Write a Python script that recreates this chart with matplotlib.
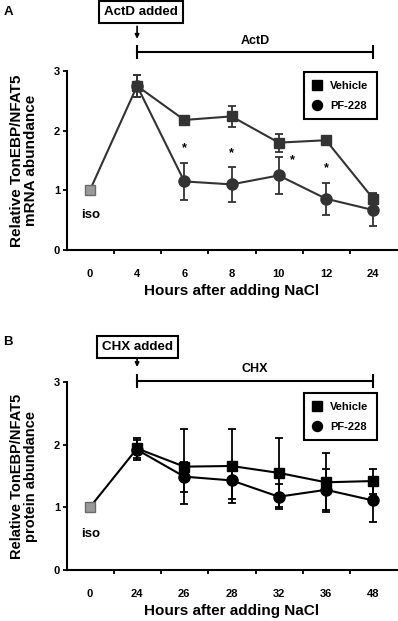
import matplotlib
matplotlib.use('Agg')
import matplotlib.pyplot as plt
import numpy as np

plt.rcParams['font.family'] = ['Liberation Sans', 'DejaVu Sans']
plt.rcParams['font.weight'] = 'bold'

###############################################################################
# data

# panel A - mRNA
hours_a = ['0', '4', '6', '8', '10', '12', '24']
iso_a = 1.0
veh_a = [2.75, 2.18, 2.24, 1.80, 1.84, 0.86]
veh_a_err = [0.19, 0.04, 0.18, 0.15, 0.05, 0.09]
pf_a = [2.75, 1.15, 1.10, 1.25, 0.86, 0.67]
pf_a_err = [0.19, 0.31, 0.29, 0.31, 0.27, 0.27]
sig_a = [False, True, True, True, True, False]

# panel B - protein
hours_b = ['0', '24', '26', '28', '32', '36', '48']
iso_b = 1.0
veh_b = [1.94, 1.65, 1.66, 1.55, 1.40, 1.42]
veh_b_err = [0.16, 0.60, 0.59, 0.55, 0.47, 0.20]
pf_b = [1.92, 1.49, 1.43, 1.17, 1.28, 1.11]
pf_b_err = [0.16, 0.24, 0.29, 0.20, 0.33, 0.34]

###############################################################################

def panel(fig, rect, hours, iso, veh, veh_err, pf, pf_err, colour,
          drug, ylabel, ylab_size, leg_top, bar_y, box_xy):
    ax = fig.add_axes(rect)
    x = np.arange(1, len(hours))

    # iso point and link to first treated point
    ax.plot([0, x[0]], [iso, veh[0]], color=colour, lw=1.5, zorder=2)
    ax.plot([0], [iso], marker='s', ms=7, mfc='#999999', mec='#6a6a6a',
            mew=1, ls='none', zorder=4)

    ax.errorbar(x, pf, yerr=pf_err, color=colour, lw=1.5, marker='o', ms=8,
                capsize=2.8, elinewidth=1.3, capthick=1.3, zorder=3)
    ax.errorbar(x, veh, yerr=veh_err, color=colour, lw=1.5, marker='s', ms=7.5,
                capsize=2.8, elinewidth=1.3, capthick=1.3, zorder=3)

    ax.text(0.02, iso - 0.42, 'iso', ha='center', va='center', fontsize=9.5)

    ax.set_xlim(-0.487, 6.5)
    ax.set_ylim(0, 3)
    ax.set_xticks(np.arange(len(hours)))
    ax.set_xticklabels(hours, fontsize=8)
    ax.tick_params(axis='x', which='major', length=0, pad=14)
    ax.set_xticks(np.arange(len(hours) - 1) + 0.51, minor=True)
    ax.tick_params(axis='x', which='minor', length=3, width=1.3, direction='out')
    ax.set_yticks([0, 1, 2, 3])
    ax.tick_params(axis='y', length=3, width=1.3, labelsize=8, pad=2)
    for lab in ax.get_xticklabels() + ax.get_yticklabels():
        lab.set_fontweight('bold')

    ax.spines['top'].set_visible(False)
    ax.spines['right'].set_visible(False)
    ax.spines['left'].set_linewidth(1.5)
    ax.spines['bottom'].set_linewidth(1.5)

    ax.set_xlabel('Hours after adding NaCl', fontsize=11, fontweight='bold',
                  labelpad=3)
    ax.set_ylabel(ylabel, fontsize=ylab_size, fontweight='bold',
                  linespacing=1.0)
    ax.yaxis.set_label_coords(-0.088, 0.5)

    # legend
    h1, = ax.plot([], [], 's', color='black', ms=6.5, label='Vehicle')
    h2, = ax.plot([], [], 'o', color='black', ms=7.2, label='PF-228')
    leg = ax.legend(handles=[h1, h2], loc='upper right',
                    bbox_to_anchor=(6.08, leg_top),
                    bbox_transform=ax.transData, fancybox=False,
                    edgecolor='black', framealpha=1, fontsize=8,
                    handlelength=0.8, handletextpad=0.85, borderpad=0.75,
                    labelspacing=0.9, borderaxespad=0)
    leg.get_frame().set_linewidth(1.5)
    for t in leg.get_texts():
        t.set_fontweight('bold')

    # drug bar
    ax.plot([1, 6], [bar_y, bar_y], color='black', lw=1.5, clip_on=False)
    for xe in [1, 6]:
        ax.plot([xe, xe], [bar_y - 0.1, bar_y + 0.1], color='black', lw=1.5,
                clip_on=False)
    ax.text(3.5, bar_y + 0.19, drug, ha='center', va='center', fontsize=9)

    # "added" box and arrow
    ax.annotate('', xy=(1, bar_y + 0.22), xytext=(1, bar_y + 0.43),
                arrowprops=dict(arrowstyle='-|>', color='black', lw=1.2,
                                mutation_scale=6, shrinkA=0, shrinkB=0),
                annotation_clip=False)
    ax.text(box_xy[0], box_xy[1], drug + ' added', ha='center', va='center',
            fontsize=9.6, bbox=dict(boxstyle='square,pad=0.38', fc='white',
                                    ec='black', lw=1.5))
    return ax

###############################################################################

fig = plt.figure(figsize=(3.98, 6.21), dpi=100)

ax_a = panel(fig, [0.168, 0.5974, 0.829, 0.2882], hours_a, iso_a, veh_a,
             veh_a_err, pf_a, pf_a_err, '#333333', 'ActD',
             'Relative TonEBP/NFAT5\nmRNA abundance', 11, 2.98, 3.32,
             (1.09, 3.99))

# significance marks (PF-228 vs vehicle)
xs = np.arange(1, len(hours_a))
for i, s in enumerate(sig_a):
    if not s:
        continue
    top = pf_a[i] + pf_a_err[i]
    if hours_a[i + 1] == '10':
        ax_a.text(xs[i] + 0.28, top - 0.05, '*', ha='center', va='center',
                  fontsize=9)
    else:
        ax_a.text(xs[i], top + 0.24, '*', ha='center', va='center', fontsize=9)

ax_b = panel(fig, [0.168, 0.0821, 0.829, 0.3027], hours_b, iso_b, veh_b,
             veh_b_err, pf_b, pf_b_err, 'black', 'CHX',
             'Relative TonEBP/NFAT5\nprotein abundance', 10.5, 2.82, 3.02,
             (1.0, 3.56))

fig.text(0.008, 1 - 12 / 621, 'A', fontsize=9.5, ha='left', va='center')
fig.text(0.008, 1 - 342 / 621, 'B', fontsize=9.5, ha='left', va='center')

fig.savefig('out.png', dpi=100)
